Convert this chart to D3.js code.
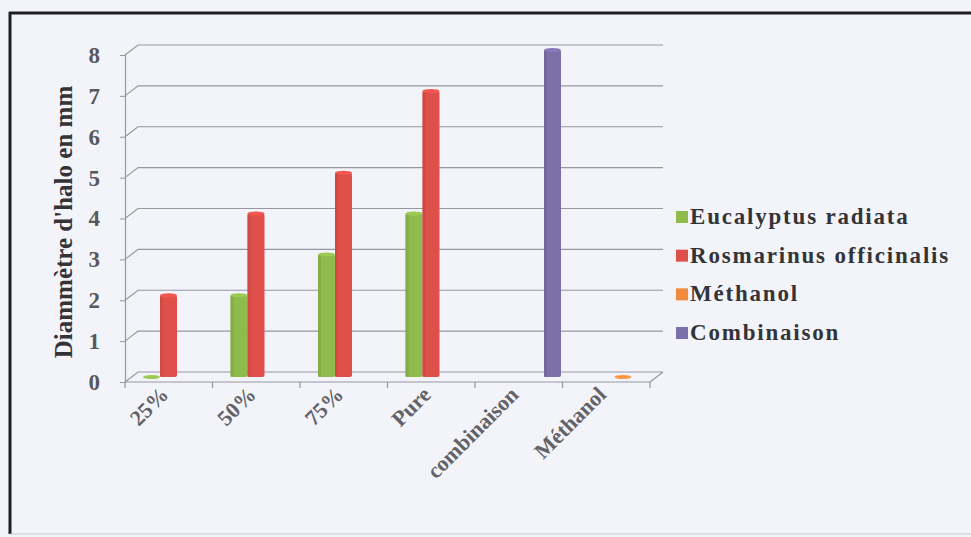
<!DOCTYPE html>
<html>
<head>
<meta charset="utf-8">
<script src="https://cdn.jsdelivr.net/npm/d3@7"></script>
<style>
  html, body { margin: 0; padding: 0; background: #f3f4f9; }
  svg { display: block; }
  text { font-family: "Liberation Serif", "Times New Roman", serif; font-weight: bold; }
</style>
</head>
<body>
<svg id="chart" width="971" height="537"></svg>
<script>
// Halo diameters (mm) per concentration, one array per essential oil / control
const categories = ["25%", "50%", "75%", "Pure", "combinaison", "Méthanol"];
const seriesNames = ["Eucalyptus radiata", "Rosmarinus officinalis", "Méthanol", "Combinaison"];
const eucalyptus = [0, 2, 3, 4, null, null];
const rosmarinus = [2, 4, 5, 7, null, null];
const methanol = [null, null, null, null, null, 0];
const combinaison = [null, null, null, null, 8, null];
const yTicks = [0, 1, 2, 3, 4, 5, 6, 7, 8];
const colors = ["#8fba4c", "#e0504a", "#f08a3e", "#7c70aa"];

const seriesValues = [eucalyptus, rosmarinus, methanol, combinaison];

const W = 971, H = 537;
const svg = d3.select("#chart");

// plot frame (front plane of the 3D floor) and depth offset of the back wall
const plot = { left: 125, right: 650, top: 55, bottom: 382 };
const depth = { dx: 13, dy: -10 };

const x0 = d3.scaleBand().domain(categories).range([plot.left, plot.right]);
const xs = d3.scaleBand().domain(seriesNames).range([10, 78]);
const y = d3.scaleLinear().domain([0, 8]).range([plot.bottom, plot.top]);

// outer frame
svg.append("rect").attr("x", 0).attr("y", 0).attr("width", W).attr("height", H).attr("fill", "#f3f4f9");
svg.append("line").attr("x1", 9).attr("x2", W).attr("y1", 13).attr("y2", 13)
  .attr("stroke", "#1e1e24").attr("stroke-width", 3);
svg.append("line").attr("x1", 10).attr("x2", 10).attr("y1", 12).attr("y2", 534)
  .attr("stroke", "#1e1e24").attr("stroke-width", 3);
svg.append("line").attr("x1", 10).attr("x2", W).attr("y1", 534).attr("y2", 534)
  .attr("stroke", "#c8c8d0").attr("stroke-width", 1);

const grid = svg.append("g").attr("stroke", "#9696a4").attr("stroke-width", 1.2).attr("fill", "none");

// back-wall gridlines with their diagonal link to the front axis
yTicks.forEach(v => {
  const yf = y(v), yb = y(v) + depth.dy;
  grid.append("path")
    .attr("d", `M${plot.left},${yf} L${plot.left + depth.dx},${yb} L${plot.right + depth.dx},${yb}`);
});

// floor front edge and right edge
grid.append("line").attr("x1", plot.left).attr("x2", plot.right)
  .attr("y1", y(0)).attr("y2", y(0));
grid.append("line").attr("x1", plot.right).attr("x2", plot.right + depth.dx)
  .attr("y1", y(0)).attr("y2", y(0) + depth.dy);

// category boundary ticks on the floor edge
const bounds = categories.map(c => x0(c)).concat([x0(categories[categories.length - 1]) + x0.bandwidth()]);
grid.selectAll("line.ctick").data(bounds).join("line").attr("class", "ctick")
  .attr("x1", d => d).attr("x2", d => d)
  .attr("y1", y(0)).attr("y2", y(0) + 6);

// front vertical axis
const yAxis = d3.axisLeft(y).tickValues(yTicks).tickSize(5).tickPadding(20).tickFormat(d3.format("d"));
const yg = svg.append("g").attr("transform", `translate(${plot.left},0)`).call(yAxis);
yg.select(".domain").attr("stroke", "#9696a4").attr("stroke-width", 1.2);
yg.selectAll(".tick line").attr("stroke", "#9696a4");
yg.selectAll(".tick text").attr("font-size", 23).attr("fill", "#58585e")
  .attr("font-family", "Liberation Serif, serif").attr("font-weight", "bold");

// category labels
const xAxis = d3.axisBottom(x0).tickSize(0).tickPadding(0);
const xg = svg.append("g").attr("transform", `translate(0,${plot.bottom})`).call(xAxis);
xg.select(".domain").remove();
xg.selectAll(".tick text")
  .attr("font-size", 22).attr("fill", "#626268")
  .attr("font-family", "Liberation Serif, serif").attr("font-weight", "bold")
  .attr("text-anchor", "end").attr("dy", 0)
  .attr("transform", "translate(1,14) rotate(-45)");

// columns, placed half-way into the depth of the floor
const barShift = { dx: 8, dy: -5 };
const bars = [];
seriesValues.forEach((vals, si) => {
  vals.forEach((v, ci) => {
    if (v === null) return;
    bars.push({ s: si, c: categories[ci], v });
  });
});

const barG = svg.append("g");
bars.forEach(b => {
  const bx = x0(b.c) + xs(seriesNames[b.s]) + barShift.dx;
  const bw = xs.bandwidth();
  const yTop = y(b.v) + barShift.dy;
  const yBase = y(0) + barShift.dy;
  const col = d3.color(colors[b.s]);
  if (b.v > 0) {
    barG.append("rect")
      .attr("x", bx).attr("y", yTop).attr("width", bw).attr("height", yBase - yTop)
      .attr("rx", 2).attr("fill", col);
    barG.append("rect")
      .attr("x", bx).attr("y", yTop).attr("width", 3).attr("height", yBase - yTop)
      .attr("fill", col.darker(0.35)).attr("opacity", 0.6);
  }
  // top face of the column
  barG.append("ellipse")
    .attr("cx", bx + bw / 2).attr("cy", yTop).attr("rx", bw / 2).attr("ry", 2)
    .attr("fill", col.brighter(0.25));
});

// legend
const legend = svg.append("g").attr("transform", "translate(676,217)");
const rowY = d3.scalePoint().domain(seriesNames).range([0, 116]);
seriesNames.forEach((name, i) => {
  const row = legend.append("g").attr("transform", `translate(0,${rowY(name)})`);
  row.append("rect").attr("x", 0).attr("y", -6).attr("width", 12).attr("height", 12)
    .attr("fill", colors[i]);
  row.append("text").attr("x", 14).attr("y", 7)
    .attr("font-size", 23).attr("letter-spacing", 1.8).attr("fill", "#343438")
    .text(name);
});

// vertical axis title
svg.append("text")
  .attr("transform", "translate(72,222) rotate(-90)")
  .attr("text-anchor", "middle")
  .attr("font-size", 25).attr("fill", "#333338")
  .text("Diammètre d'halo en mm");
</script>
</body>
</html>
